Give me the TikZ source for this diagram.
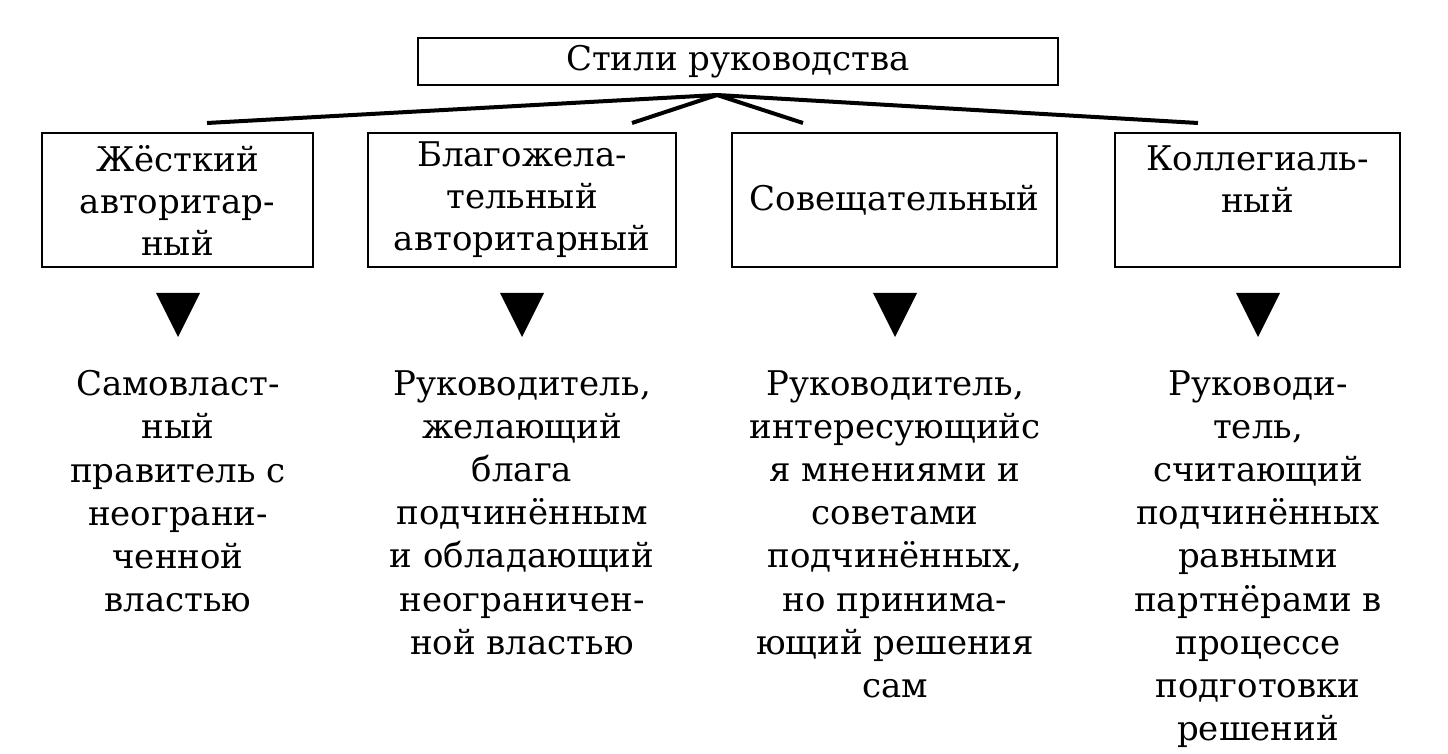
\documentclass[tikz,border=0pt]{standalone}
\usepackage{fontspec}
\setmainfont{DejaVu Serif}
\usetikzlibrary{positioning}

\begin{document}
\begin{tikzpicture}[x=0.5pt,y=-0.5pt,
  every node/.style={font=\fontsize{17}{21.6}\selectfont},
  box/.style={draw,line width=1pt,align=center,inner sep=0pt,minimum height=67pt,
    font=\fontsize{17}{21}\selectfont},
  txt/.style={align=center,inner sep=0pt,anchor=north},
  link/.style={line width=2pt}]
\useasboundingbox (0,0) rectangle (1448,754);
% top
\node[box,minimum width=320pt,minimum height=23.5pt] (styles) at (738,61.5) {Стили руководства};
% four styles
\node[box,minimum width=135.5pt] (hard) at (177.5,200) {Жёсткий\\авторитар-\\ный};
\node[box,minimum width=154pt] (kind) at (522,200) {Благожела-\\тельный\\авторитарный};
\node[box,minimum width=162.5pt] (consult) at (894.5,200) {Совещательный};
\node[box,minimum width=142.5pt] (collegial) at (1257.5,200) {Коллегиаль-\\ный\\\phantom{ный}};
% fan of lines
\coordinate (hub) at (717,95);
\coordinate (e1) at (207,123);
\coordinate (e2) at (632,123);
\coordinate (e3) at (803,123);
\coordinate (e4) at (1198,123);
\foreach \e in {e1,e2,e3,e4}
  \draw[link] (hub) -- (\e);
% markers
\foreach \x in {178,522,895,1258}
  \fill (\x-22,293) -- (\x+22,293) -- (\x,337) -- cycle;
% descriptions
\node[txt] (d1) at (178,370) {Самовласт-\\ный\\правитель с\\неограни-\\ченной\\властью};
\node[txt] (d2) at (522,370) {Руководитель,\\желающий\\блага\\подчинённым\\и обладающий\\неограничен-\\ной властью};
\node[txt] (d3) at (895,370) {Руководитель,\\интересующийс\\я мнениями и\\советами\\подчинённых,\\но принима-\\ющий решения\\сам};
\node[txt] (d4) at (1258,370) {Руководи-\\тель,\\считающий\\подчинённых\\равными\\партнёрами в\\процессе\\подготовки\\решений};
\end{tikzpicture}
\end{document}
